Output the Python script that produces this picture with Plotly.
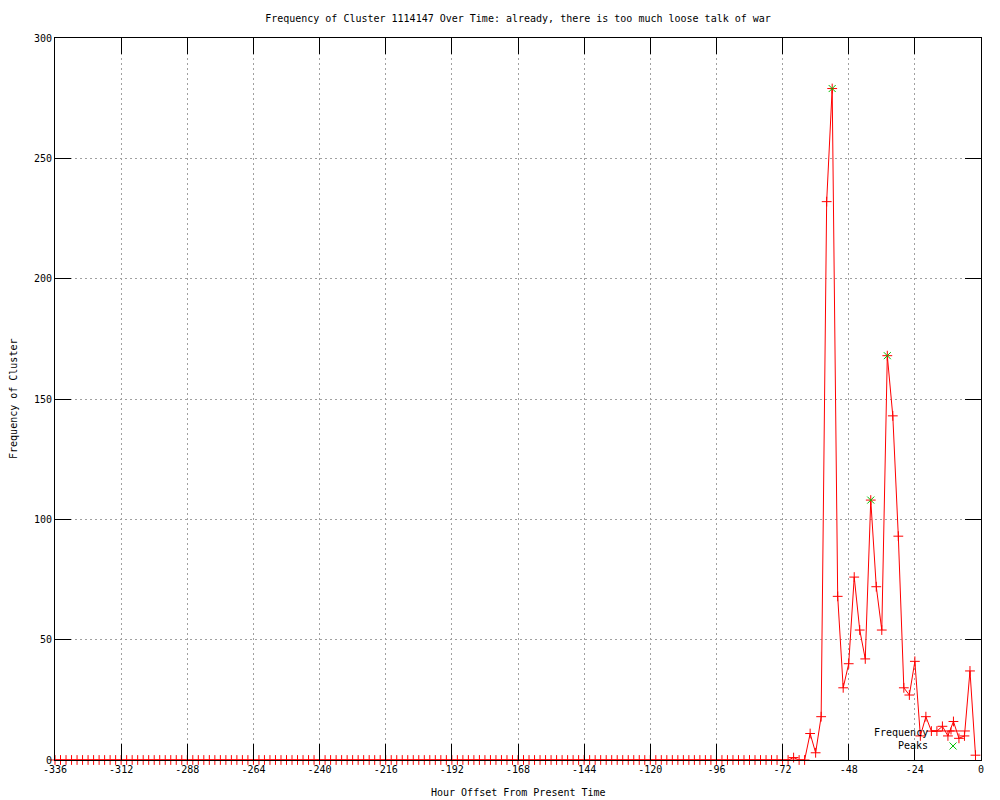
import plotly.graph_objects as go

# Hour offsets (every 2 hours from -336 to -2)
hours = list(range(-336, 0, 2))

# Frequency values
frequency = [
    0, 0, 0, 0, 0, 0, 0, 0, 0, 0, 0, 0, 0, 0, 0, 0, 0, 0, 0, 0,
    0, 0, 0, 0, 0, 0, 0, 0, 0, 0, 0, 0, 0, 0, 0, 0, 0, 0, 0, 0,
    0, 0, 0, 0, 0, 0, 0, 0, 0, 0, 0, 0, 0, 0, 0, 0, 0, 0, 0, 0,
    0, 0, 0, 0, 0, 0, 0, 0, 0, 0, 0, 0, 0, 0, 0, 0, 0, 0, 0, 0,
    0, 0, 0, 0, 0, 0, 0, 0, 0, 0, 0, 0, 0, 0, 0, 0, 0, 0, 0, 0,
    0, 0, 0, 0, 0, 0, 0, 0, 0, 0, 0, 0, 0, 0, 0, 0, 0, 0, 0, 0,
    0, 0, 0, 0, 0, 0, 0, 0, 0, 0, 0, 0, 0, 0,
    # -68 .. -2
    1, 0, 0, 11, 3, 18, 232, 279, 68, 30, 40, 76, 54, 42, 108, 72, 54,
    168, 143, 93, 30, 27, 41, 10, 18, 12, 12, 14, 10, 16, 9, 10, 37, 2,
]

peak_hours = [-54, -40, -34]
peak_values = [279, 108, 168]

x_tickvals = [-336, -312, -288, -264, -240, -216, -192, -168, -144, -120, -96, -72, -48, -24, 0]
x_ticktext = ["-336", "-312", "-288", "-264", "-240", "-216", "-192", "-168", "-144",
              "-120", "-96", "-72", "-48", "-24", "0"]
y_tickvals = [0, 50, 100, 150, 200, 250, 300]

title_text = "Frequency of Cluster 1114147 Over Time: already, there is too much loose talk of war"

RED = "#ff0000"
GREEN = "#00c000"
FONT = "DejaVu Sans Mono"

fig = go.Figure()
fig.add_trace(go.Scatter(
    x=hours, y=frequency, mode="lines+markers", name="Frequency",
    line=dict(color=RED, width=1),
    marker=dict(symbol="cross-thin", size=7, color=RED, line=dict(color=RED, width=1)),
    cliponaxis=False,
))
fig.add_trace(go.Scatter(
    x=peak_hours, y=peak_values, mode="markers", name="Peaks",
    marker=dict(symbol="x-thin", size=7, color=GREEN, line=dict(color=GREEN, width=1)),
    cliponaxis=False,
))

axis_common = dict(
    ticks="inside", ticklen=16, tickwidth=1, tickcolor="black",
    showline=True, linecolor="black", linewidth=1, mirror="ticks",
    showgrid=True, gridcolor="#a0a0a0", gridwidth=1, griddash="2px,3px",
    zeroline=False, tickfont=dict(family=FONT, size=10, color="black"),
)

fig.update_xaxes(range=[-336, 0], tickmode="array", tickvals=x_tickvals,
                 ticktext=x_ticktext, **axis_common)
fig.update_yaxes(range=[0, 300], tickmode="array", tickvals=y_tickvals,
                 ticktext=[str(v) for v in y_tickvals], **axis_common)

# Legend drawn gnuplot-style (text, then sample)
lx0, lx1 = 0.947, 0.988
ly_f = 0.0402
cx_f = 0.9676
cx_p, cy_p = 0.9698, 0.0194
dx, dy = 3.5 / 926, 3.5 / 722
shapes = [
    dict(type="line", xref="paper", yref="paper", x0=lx0, x1=lx1, y0=ly_f, y1=ly_f,
         line=dict(color=RED, width=1)),
    dict(type="line", xref="paper", yref="paper", x0=cx_f - dx, x1=cx_f + dx, y0=ly_f, y1=ly_f,
         line=dict(color=RED, width=1)),
    dict(type="line", xref="paper", yref="paper", x0=cx_f, x1=cx_f, y0=ly_f - dy, y1=ly_f + dy,
         line=dict(color=RED, width=1)),
    dict(type="line", xref="paper", yref="paper", x0=cx_p - dx, x1=cx_p + dx,
         y0=cy_p - dy, y1=cy_p + dy, line=dict(color=GREEN, width=1)),
    dict(type="line", xref="paper", yref="paper", x0=cx_p - dx, x1=cx_p + dx,
         y0=cy_p + dy, y1=cy_p - dy, line=dict(color=GREEN, width=1)),
]

annotations = [
    dict(text="Frequency", xref="paper", yref="paper", x=0.945, y=0.0374,
         xanchor="right", yanchor="middle", showarrow=False,
         font=dict(family=FONT, size=10, color="black")),
    dict(text="Peaks", xref="paper", yref="paper", x=0.945, y=0.0194,
         xanchor="right", yanchor="middle", showarrow=False,
         font=dict(family=FONT, size=10, color="black")),
    dict(text="Hour Offset From Present Time", xref="paper", yref="paper", x=0.5, y=-0.0457,
         xanchor="center", yanchor="middle", showarrow=False,
         font=dict(family=FONT, size=10, color="black")),
    dict(text="Frequency of Cluster", xref="paper", yref="paper", x=-0.0454, y=0.5,
         xanchor="center", yanchor="middle", textangle=-90, showarrow=False,
         font=dict(family=FONT, size=10, color="black")),
]

fig.update_layout(
    width=1000, height=800,
    margin=dict(l=55, r=19, t=38, b=40),
    plot_bgcolor="white", paper_bgcolor="white",
    font=dict(family=FONT, size=10, color="black"),
    showlegend=False,
    title=dict(text=title_text, x=0.518, xanchor="center", xref="container",
               y=1 - 18 / 800, yanchor="middle", yref="container",
               font=dict(family=FONT, size=10, color="black")),
    shapes=shapes,
    annotations=annotations,
)

fig.write_html(
    "out.html",
    config={"displayModeBar": False},
    post_script="document.body.style.margin='0';document.body.style.overflow='hidden';",
)
